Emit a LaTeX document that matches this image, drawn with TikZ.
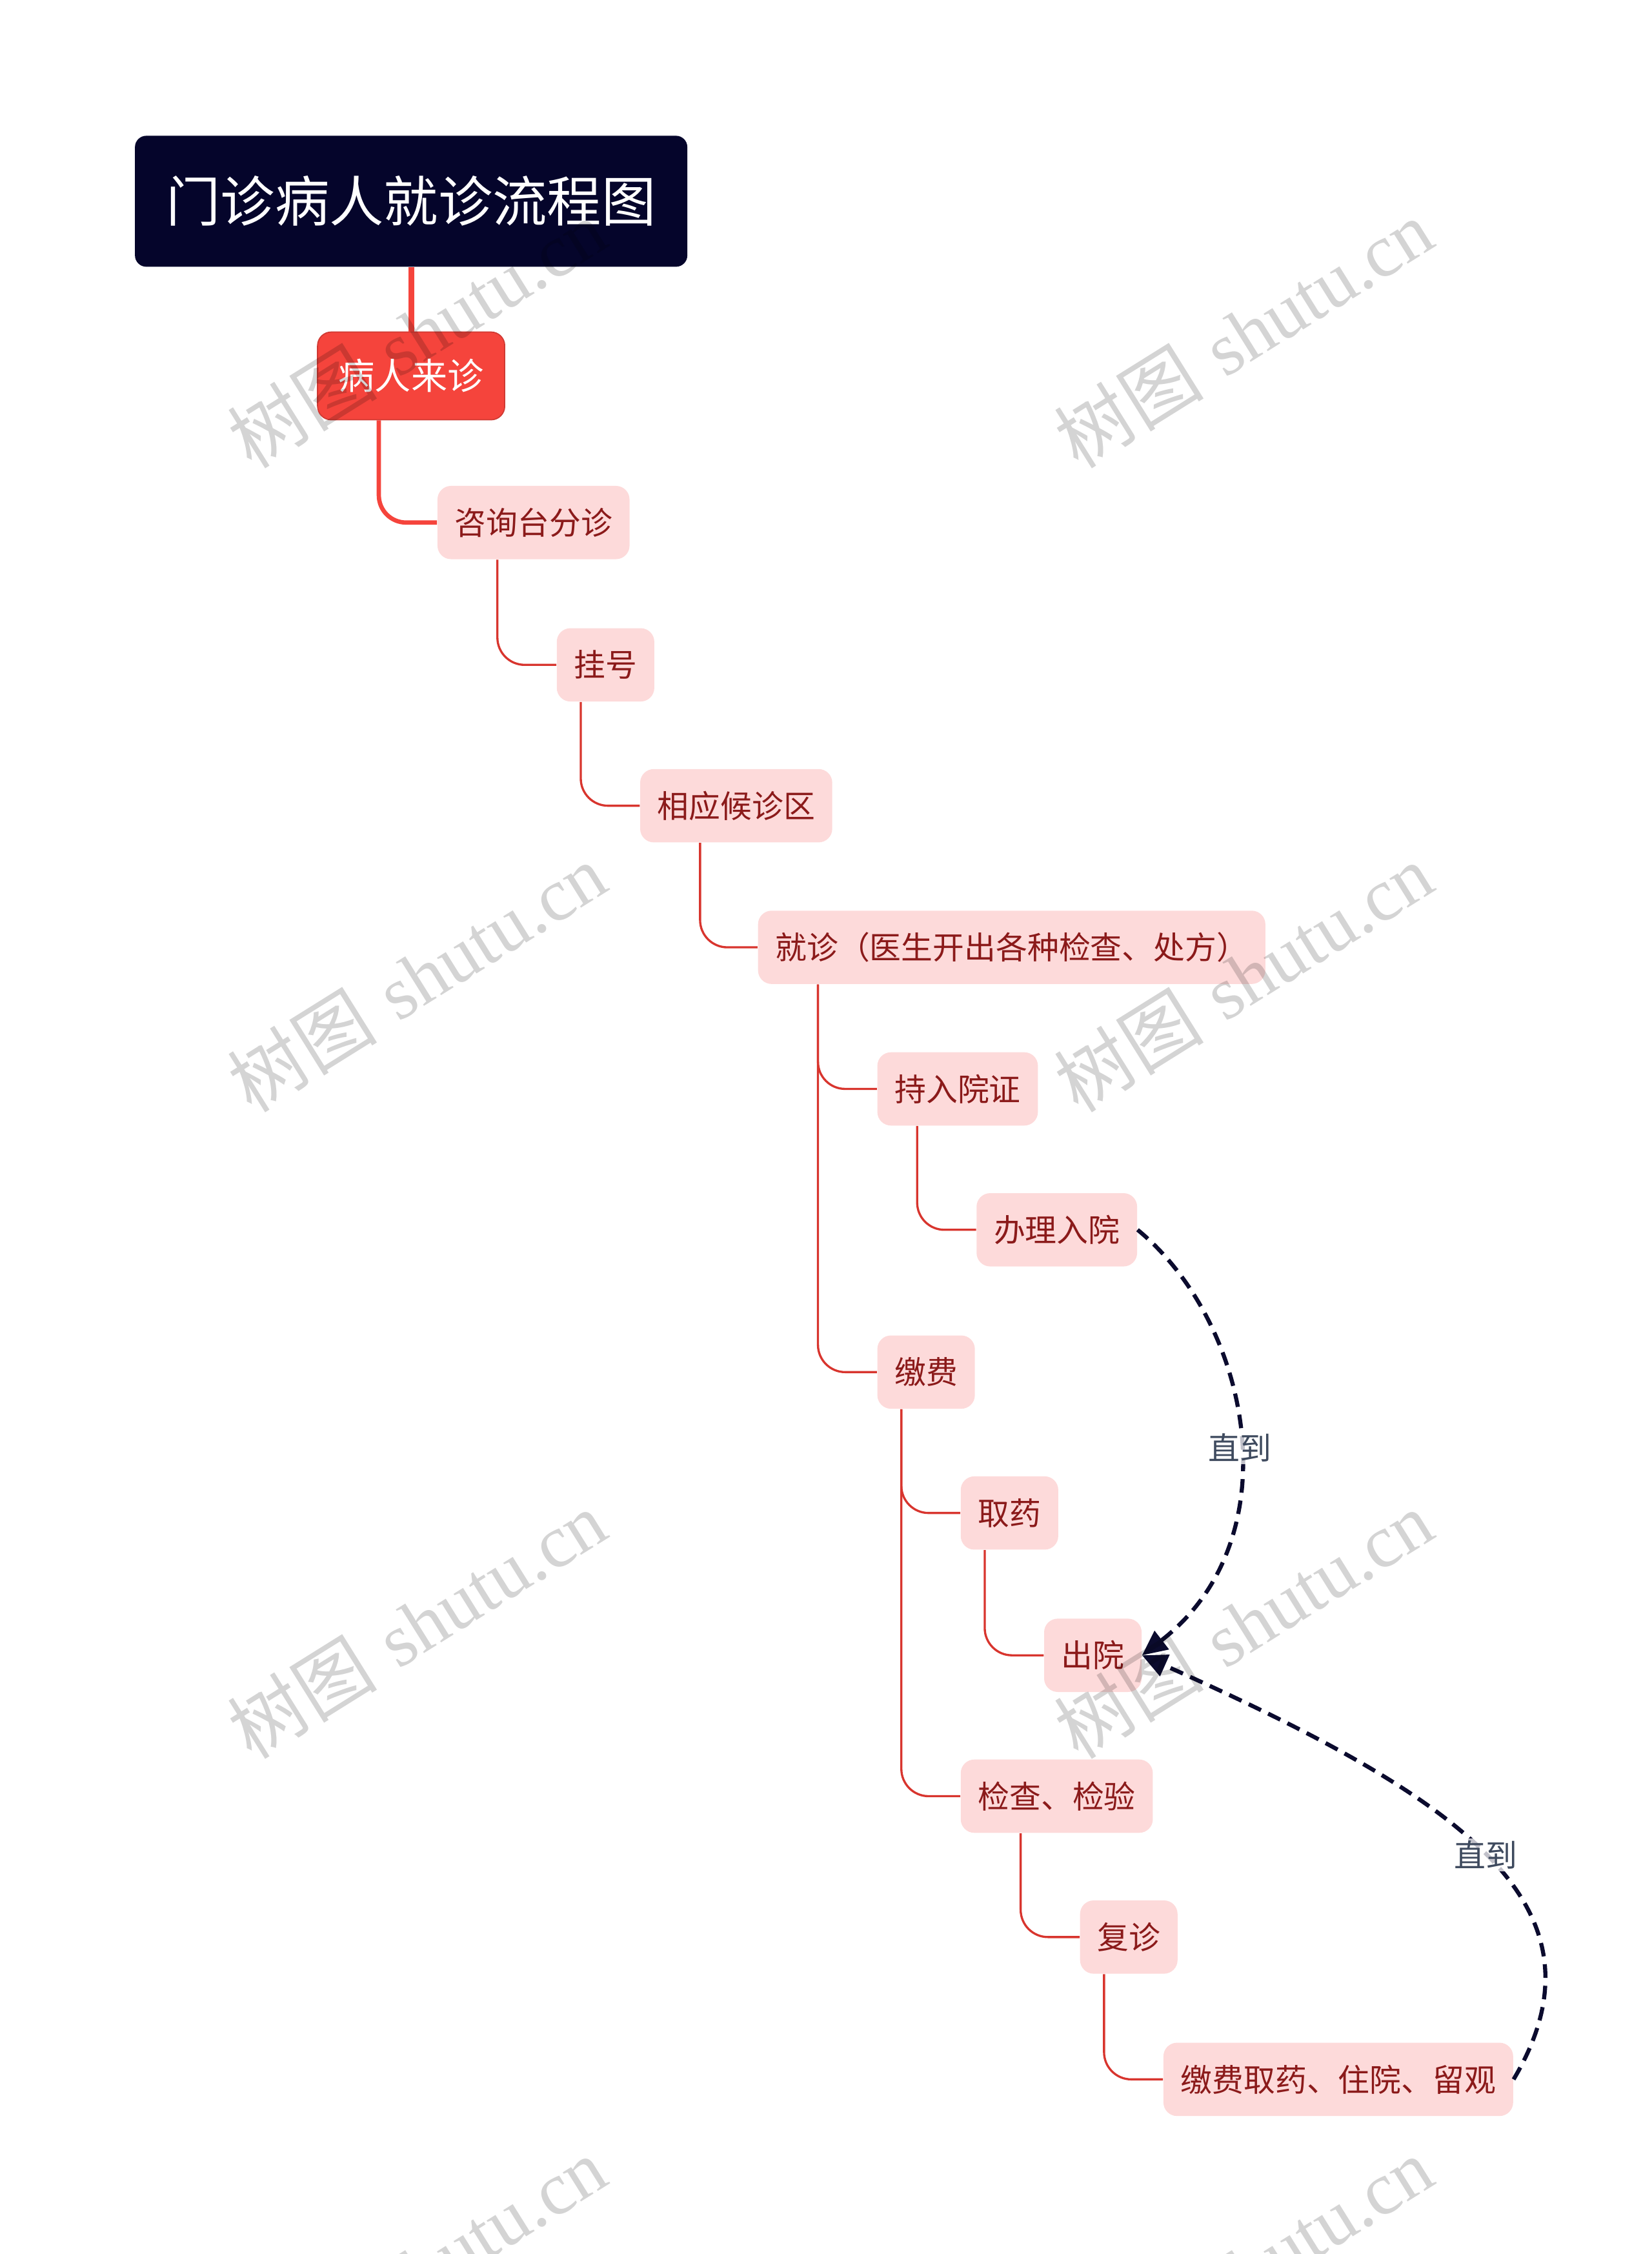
\documentclass[tikz,border=0pt]{standalone}
\usepackage{fontspec}
\newfontfamily\cjk{Noto Sans CJK SC}
\newfontfamily\wmfont{Liberation Serif}
\usetikzlibrary{arrows.meta, calc}
\definecolor{titlenavy}{HTML}{05052B}
\definecolor{rootred}{HTML}{F5443C}
\definecolor{topicpink}{HTML}{FDDADA}
\definecolor{topictext}{HTML}{8B1A1A}
\definecolor{branchred}{HTML}{D8352E}
\definecolor{linknavy}{HTML}{0B0B2E}
\definecolor{labelslate}{HTML}{3E4A5E}

\begin{document}
\begin{tikzpicture}[
    x=0.02228cm, y=-0.02228cm,
    titlebox/.style={rectangle, rounded corners=5pt, fill=titlenavy, text=white, minimum width=8.56cm, minimum height=2.03cm, font=\cjk\fontsize{24pt}{28pt}\selectfont},
    rootbox/.style={rectangle, rounded corners=6pt, fill=rootred, draw=rootred!85!black, line width=0.5pt, text=white, minimum width=2.9cm, minimum height=1.36cm, font=\cjk\fontsize{16pt}{19pt}\selectfont},
    topic/.style={rectangle, rounded corners=6pt, fill=topicpink, text=topictext, anchor=west, inner xsep=0.267cm, minimum height=1.136cm, font=\cjk\fontsize{13.9pt}{16pt}\selectfont},
    trunk/.style={draw=rootred, line width=2.5pt},
    branch/.style={draw=branchred, line width=0.95pt, rounded corners=12pt},
    link/.style={draw=linknavy, line width=1.8pt, dash pattern=on 6pt off 3.5pt, -{Triangle[length=11pt, width=10pt, fill=linknavy]}},
    linklabel/.style={fill=white, fill opacity=0.75, text opacity=1, text=labelslate, inner sep=1pt, font=\cjk\fontsize{13.9pt}{16pt}\selectfont},
    watermark/.style={rotate=32, text=black, text opacity=0.17, font=\fontsize{33pt}{37pt}\selectfont}
  ]
    \useasboundingbox (0,0) rectangle (1149,1568);
    \clip (0,0) rectangle (1149,1568);

    \node[titlebox] (title) at (286,140) {门诊病人就诊流程图};
    \node[rootbox] (laizhen) at (286,261.5) {病人来诊};
    \node[topic] (zixun) at (304,363.5) {咨询台分诊};
    \node[topic] (guahao) at (387,462.5) {挂号};
    \node[topic] (houzhen) at (445,560.5) {相应候诊区};
    \node[topic] (jiuzhen) at (527,659) {就诊（医生开出各种检查、处方）};
    \node[topic] (ruyuanzheng) at (610,757.5) {持入院证};
    \node[topic] (banli) at (679,855.5) {办理入院};
    \node[topic] (jiaofei) at (610,954.5) {缴费};
    \node[topic] (quyao) at (668,1052.5) {取药};
    \node[topic] (chuyuan) at (726,1151.5) {出院};
    \node[topic] (jiancha) at (668,1249.5) {检查、检验};
    \node[topic] (fuzhen) at (751,1347.5) {复诊};
    \node[topic] (liuguan) at (809,1446.5) {缴费取药、住院、留观};

    \draw[trunk] (title.south) -- (laizhen.north);
    \draw[branch, draw=rootred, line width=1.9pt] ($(laizhen.south west)+(43,0)$) |- (zixun.west);
    \draw[branch] ($(zixun.south west)+(42,0)$) |- (guahao.west);
    \draw[branch] ($(guahao.south west)+(17,0)$) |- (houzhen.west);
    \draw[branch] ($(houzhen.south west)+(42,0)$) |- (jiuzhen.west);
    \draw[branch] ($(jiuzhen.south west)+(42,0)$) |- (ruyuanzheng.west);
    \draw[branch] ($(jiuzhen.south west)+(42,0)$) |- (jiaofei.west);
    \draw[branch] ($(ruyuanzheng.south west)+(28,0)$) |- (banli.west);
    \draw[branch] ($(jiaofei.south west)+(17,0)$) |- (quyao.west);
    \draw[branch] ($(jiaofei.south west)+(17,0)$) |- (jiancha.west);
    \draw[branch] ($(quyao.south west)+(17,0)$) |- (chuyuan.west);
    \draw[branch] ($(jiancha.south west)+(42,0)$) |- (fuzhen.west);
    \draw[branch] ($(fuzhen.south west)+(17,0)$) |- (liuguan.west);

    \draw[link] (banli.east) .. controls (870,920) and (900,1070) .. (chuyuan.east) node[linklabel, pos=0.53] {直到};
    \draw[link] (liuguan.east) .. controls (1125,1325) and (1015,1250) .. (chuyuan.east) node[linklabel, pos=0.5] {直到};

    \foreach \wx in {290,865}
      \foreach \wy in {232,680,1130,1580}
        \node[watermark] (wm-\wx-\wy) at (\wx,\wy) {{\cjk 树图} {\wmfont shutu.cn}};
\end{tikzpicture}
\end{document}
